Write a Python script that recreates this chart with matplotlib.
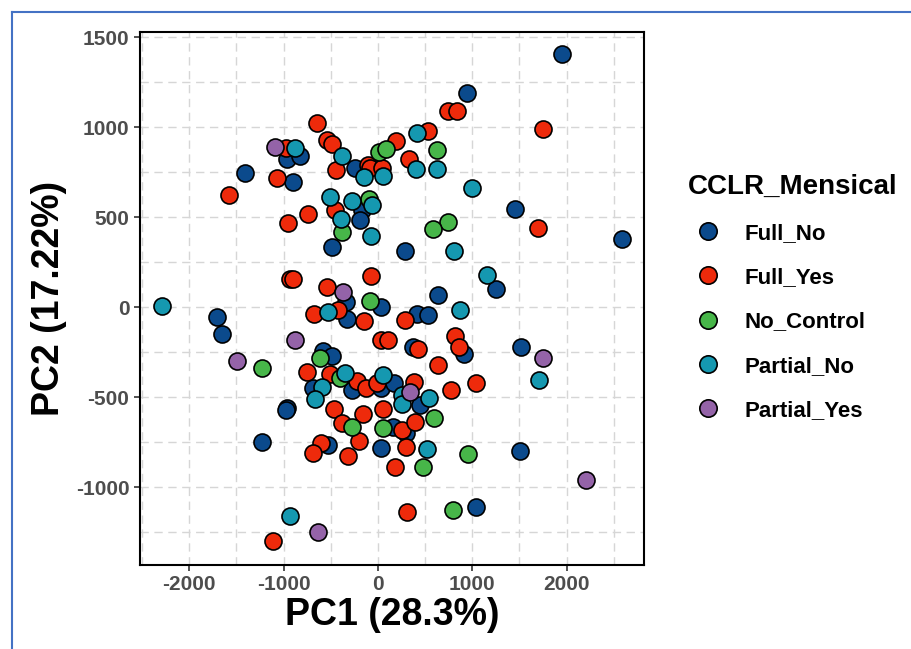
import numpy as np
import matplotlib.pyplot as plt
from matplotlib.lines import Line2D

plt.rcParams['font.family'] = ['Liberation Sans', 'DejaVu Sans']
plt.rcParams['axes.unicode_minus'] = False

groups = ['Full_No', 'Full_Yes', 'No_Control', 'Partial_No', 'Partial_Yes']
colors = ['#0B4A8C', '#EE2A0B', '#47B649', '#1598B0', '#9463A8']

full_no_x = [1950, 942, -1411, -963, -825, -903, -247, -169, -194, -487, 286, 1453, 2585,
             1256, 638, -1704, -1658, 35, -335, -331, 410, 532, 915, 374, 1513, -579,
             -492, -688, -280, 37, 175, 444, -960, -979, 164, 296, -524, 37, -1228,
             1503, 1044]
full_no_y = [1407, 1189, 748, 826, 842, 698, 772, 541, 485, 333, 314, 544, 378,
             102, 68, -56, -148, 3, 31, -67, -37, -40, -257, -222, -219, -243,
             -272, -448, -461, -450, -419, -541, -561, -573, -663, -700, -765, -779, -750,
             -798, -1108]

full_yes_x = [-646, -537, -492, -977, -1066, -1580, -444, -106, -85, 48, 196, 529, 744,
              839, 1751, 333, -452, -741, -950, -934, -905, -540, -72, 1695, -677, -421,
              -148, 286, 35, 109, 815, 862, 426, 638, 1037, 772, -757, -505, -224,
              -122, -13, 384, -470, -376, -153, 55, 251, 395, -196, -605, -693, -315,
              296, 185, 312, -1111]
full_yes_y = [1024, 930, 907, 883, 717, 626, 763, 791, 777, 774, 927, 978, 1089,
              1093, 989, 824, 541, 521, 470, 159, 156, 114, 176, 440, -37, -17,
              -76, -71, -179, -182, -159, -219, -233, -321, -419, -461, -358, -369, -411,
              -448, -421, -416, -567, -640, -594, -565, -682, -639, -741, -754, -811, -826,
              -774, -886, -1136, -1297]

no_control_x = [7, 81, 621, -92, -378, 744, 579, -81, -614, -400, -1228, -280, 51,
                596, 958, 479, 797]
no_control_y = [863, 878, 874, 604, 416, 472, 435, 37, -284, -390, -336, -663, -669,
                -617, -817, -885, -1126]

partial_no_x = [-2293, -878, -386, -148, 58, 418, 402, 628, 1000, -506, -280, -67, -395,
                -74, 810, 1161, 868, -524, -351, 58, -598, -665, 251, 259, 542, 515,
                1704, -934]
partial_no_y = [10, 883, 841, 726, 732, 971, 770, 770, 664, 614, 593, 568, 492,
                395, 313, 181, -12, -28, -365, -376, -441, -509, -487, -539, -506, -789,
                -404, -1158]

partial_yes_x = [-1087, -365, -880, -1489, 335, 1749, 2201, -635]
partial_yes_y = [892, 87, -182, -297, -473, -280, -960, -1247]

xs = [full_no_x, full_yes_x, no_control_x, partial_no_x, partial_yes_x]
ys = [full_no_y, full_yes_y, no_control_y, partial_no_y, partial_yes_y]

fig = plt.figure(figsize=(9.12, 6.49), dpi=100)
ax = fig.add_axes([0.1532, 0.1294, 0.5529, 0.8218])

for gx, gy, c in zip(xs, ys, colors):
    ax.scatter(gx, gy, s=150, c=c, edgecolors='black', linewidths=1.2, zorder=3)

ax.set_xlim(-2525, 2820)
ax.set_ylim(-1432, 1532)
ax.set_xticks([-2000, -1000, 0, 1000, 2000])
ax.set_yticks([-1000, -500, 0, 500, 1000, 1500])
ax.set_xticks(np.arange(-2500, 3000, 500), minor=True)
ax.set_yticks(np.arange(-1250, 1750, 250), minor=True)
ax.grid(True, which='both', color='#D6D6D6', linestyle=(0, (6, 4)), linewidth=1.0, zorder=0)
ax.tick_params(which='minor', length=0)
ax.tick_params(which='major', length=4, width=1.2, color='#333333', labelsize=15,
               labelcolor='#4D4D4D')
for lab in ax.get_xticklabels() + ax.get_yticklabels():
    lab.set_fontweight('bold')
for sp in ax.spines.values():
    sp.set_linewidth(1.5)
    sp.set_color('black')

ax.set_xlabel('PC1 (28.3%)', fontsize=27, fontweight='bold', labelpad=2)
ax.set_ylabel('PC2 (17.22%)', fontsize=27, fontweight='bold', labelpad=6)

handles = [Line2D([], [], marker='o', linestyle='', markersize=12.5, markerfacecolor=c,
                  markeredgecolor='black', markeredgewidth=1.2) for c in colors]
leg = fig.legend(handles, groups, loc='upper left', bbox_to_anchor=(0.7325, 0.7635),
                 frameon=False, title='CCLR_Mensical', alignment='left',
                 prop={'weight': 'bold', 'size': 16},
                 title_fontproperties={'weight': 'bold', 'size': 20},
                 labelspacing=1.05, handletextpad=0.7, handlelength=1.83)

# blue screenshot frame
fig.add_artist(Line2D([12 / 912, 12 / 912], [0, 1 - 12 / 649], color='#4472C4',
                      linewidth=1.5, transform=fig.transFigure))
fig.add_artist(Line2D([12 / 912, 1], [1 - 12 / 649, 1 - 12 / 649], color='#4472C4',
                      linewidth=1.5, transform=fig.transFigure))

fig.savefig('out.png', dpi=100)
